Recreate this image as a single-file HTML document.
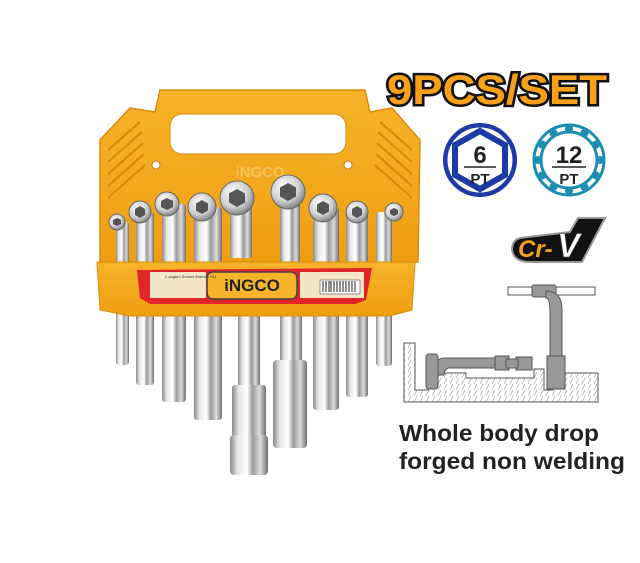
<!DOCTYPE html>
<html><head><meta charset="utf-8"><style>
html,body{margin:0;padding:0;background:#fff;}
svg{display:block}
</style></head><body>
<svg width="640" height="563" viewBox="0 0 640 563" xmlns="http://www.w3.org/2000/svg" font-family="Liberation Sans, sans-serif">
<defs>
<linearGradient id="chrome" x1="0" x2="1" y1="0" y2="0">
<stop offset="0" stop-color="#8a8a8a"/><stop offset="0.2" stop-color="#e8e8e8"/><stop offset="0.45" stop-color="#ffffff"/><stop offset="0.6" stop-color="#9a9a9a"/><stop offset="0.8" stop-color="#dcdcdc"/><stop offset="1" stop-color="#6e6e6e"/>
</linearGradient>
<radialGradient id="head" cx="0.4" cy="0.35" r="0.7"><stop offset="0" stop-color="#fff"/><stop offset="0.6" stop-color="#cfcfcf"/><stop offset="1" stop-color="#777"/></radialGradient>
<linearGradient id="org" x1="0" x2="0" y1="0" y2="1"><stop offset="0" stop-color="#f7b42a"/><stop offset="1" stop-color="#ef9e12"/></linearGradient>
<pattern id="hatch" width="6" height="6" patternUnits="userSpaceOnUse"><rect width="6" height="6" fill="#fff"/><path d="M0 6 L3 0" stroke="#999" stroke-width="0.6"/></pattern>
</defs>

<path d="M100 140 L130 108 L155 112 L160 90 L365 90 L370 112 L392 108 L420 140 L418 262 L100 262 Z" fill="url(#org)" stroke="#d98a0a" stroke-width="1.5"/>
<rect x="170" y="114" width="176" height="40" rx="12" fill="#fff" stroke="#d98a0a"/>
<g stroke="#d9870a" stroke-width="2" fill="none">
<path d="M108 150 L140 122 M108 162 L142 132 M108 174 L143 143 M108 186 L144 154 M108 198 L145 165"/>
<path d="M412 150 L380 122 M412 162 L378 132 M412 174 L377 143 M412 186 L376 154 M412 198 L375 165"/>
</g>
<circle cx="156" cy="165" r="4" fill="#fff" stroke="#c77a00"/>
<circle cx="348" cy="165" r="4" fill="#fff" stroke="#c77a00"/>
<path d="M185 178 L200 160 L320 160 L335 178 Z" fill="#f2a91e"/>
<text x="260" y="177" text-anchor="middle" font-size="15" font-weight="bold" fill="#f4c25a">iNGCO</text>

<g>
<rect x="116" y="222" width="13" height="143" rx="3" fill="url(#chrome)"/>
<rect x="136" y="212" width="18" height="173" rx="3" fill="url(#chrome)"/>
<rect x="162" y="204" width="24" height="198" rx="3" fill="url(#chrome)"/>
<rect x="194" y="207" width="28" height="213" rx="3" fill="url(#chrome)"/>
<rect x="230" y="198" width="22" height="60" fill="url(#chrome)"/>
<rect x="238" y="300" width="22" height="90" fill="url(#chrome)"/>
<rect x="232" y="385" width="34" height="55" rx="3" fill="url(#chrome)"/>
<rect x="230" y="435" width="38" height="40" rx="4" fill="url(#chrome)"/>
<rect x="280" y="192" width="20" height="70" fill="url(#chrome)"/>
<rect x="280" y="300" width="22" height="65" fill="url(#chrome)"/>
<rect x="273" y="360" width="34" height="88" rx="4" fill="url(#chrome)"/>
<rect x="313" y="208" width="26" height="202" rx="3" fill="url(#chrome)"/>
<rect x="346" y="212" width="22" height="185" rx="3" fill="url(#chrome)"/>
<rect x="376" y="212" width="16" height="154" rx="3" fill="url(#chrome)"/>
</g>
<g stroke="#666" stroke-width="1">
<circle cx="117" cy="222" r="8" fill="url(#head)"/>
<circle cx="140" cy="212" r="11" fill="url(#head)"/>
<circle cx="167" cy="204" r="12" fill="url(#head)"/>
<circle cx="202" cy="207" r="14" fill="url(#head)"/>
<circle cx="237" cy="198" r="17" fill="url(#head)"/>
<circle cx="288" cy="192" r="17" fill="url(#head)"/>
<circle cx="323" cy="208" r="14" fill="url(#head)"/>
<circle cx="357" cy="212" r="11" fill="url(#head)"/>
<circle cx="394" cy="212" r="9" fill="url(#head)"/>
</g>
<g fill="#555">
<polygon points="117,218 121,220 121,224 117,226 113,224 113,220"/>
<polygon points="140,206 145,209 145,215 140,218 135,215 135,209"/>
<polygon points="167,198 173,201 173,207 167,210 161,207 161,201"/>
<polygon points="202,200 208,203.5 208,210.5 202,214 196,210.5 196,203.5"/>
<polygon points="237,189 245,193.5 245,202.5 237,207 229,202.5 229,193.5"/>
<polygon points="288,183 296,187.5 296,196.5 288,201 280,196.5 280,187.5"/>
<polygon points="323,201 329,204.5 329,211.5 323,215 317,211.5 317,204.5"/>
<polygon points="357,206 362,209 362,215 357,218 352,215 352,209"/>
<polygon points="394,208 398,210 398,214 394,216 390,214 390,210"/>
</g>

<path d="M97 262 L415 262 L412 310 L390 316 L130 316 L100 310 Z" fill="url(#org)" stroke="#d98a0a"/>
<path d="M137 270 L372 268 L366 300 L355 304 L150 304 L140 298 Z" fill="#e0242a"/>
<rect x="150" y="272" width="56" height="26" fill="#f6e6c8"/>
<rect x="300" y="272" width="64" height="26" fill="#f6e6c8"/>
<rect x="320" y="280" width="40" height="14" fill="#fff" stroke="#333" stroke-width="0.5"/>
<path d="M323 281 v11 M326 281 v11 M329 281 v11 M331 281 v11 M334 281 v11 M337 281 v11 M340 281 v11 M343 281 v11 M346 281 v11 M349 281 v11 M352 281 v11 M355 281 v11" stroke="#222" stroke-width="1"/>
<rect x="207" y="272" width="90" height="27" rx="6" fill="#f7b42a" stroke="#444" stroke-width="1.5"/>
<text x="252" y="291" text-anchor="middle" font-size="17" font-weight="bold" fill="#222">iNGCO</text>
<text x="165" y="278" font-size="4" fill="#333">L-angled Socket Wrench Set</text>

<text x="387" y="104" font-size="42" font-weight="900" fill="#f7a11a" stroke="#111" stroke-width="5" paint-order="stroke" textLength="220" lengthAdjust="spacingAndGlyphs">9PCS/SET</text>

<circle cx="480" cy="160" r="34" fill="#fff" stroke="#1b3aa8" stroke-width="3"/>
<polygon points="480,131 505,145 505,175 480,189 455,175 455,145" fill="#fff" stroke="#1b3aa8" stroke-width="6"/>
<circle cx="480" cy="160" r="36" fill="none" stroke="#1b3aa8" stroke-width="2"/>
<text x="480" y="163" text-anchor="middle" font-size="24" font-weight="bold" fill="#222">6</text>
<line x1="464" y1="167" x2="496" y2="167" stroke="#222" stroke-width="1.5"/>
<text x="480" y="184" text-anchor="middle" font-size="15" font-weight="bold" fill="#222">PT</text>

<circle cx="569" cy="160" r="35" fill="#fff" stroke="#1c8fb0" stroke-width="3"/>
<circle cx="569" cy="160" r="28" fill="none" stroke="#1c8fb0" stroke-width="3"/>
<g fill="#1c8fb0">
<circle cx="569" cy="129" r="4"/><circle cx="569" cy="191" r="4"/><circle cx="538" cy="160" r="4"/><circle cx="600" cy="160" r="4"/>
<circle cx="584.5" cy="133" r="4"/><circle cx="553.5" cy="133" r="4"/><circle cx="584.5" cy="187" r="4"/><circle cx="553.5" cy="187" r="4"/>
<circle cx="596" cy="144.5" r="4"/><circle cx="542" cy="144.5" r="4"/><circle cx="596" cy="175.5" r="4"/><circle cx="542" cy="175.5" r="4"/>
</g>
<text x="569" y="163" text-anchor="middle" font-size="24" font-weight="bold" fill="#222">12</text>
<line x1="552" y1="167" x2="586" y2="167" stroke="#222" stroke-width="1.5"/>
<text x="569" y="184" text-anchor="middle" font-size="15" font-weight="bold" fill="#222">PT</text>

<path d="M520 238 Q512 240 512 250 Q514 262 530 262 L582 262 L605 218 L578 218 L570 232 Z" fill="#111" stroke="#999" stroke-width="2"/>
<text x="518" y="257" font-size="24" font-weight="bold" font-style="italic" fill="#f7a11a">Cr-</text>
<text x="557" y="257" font-size="34" font-weight="bold" font-style="italic" fill="#fff" stroke="#333" stroke-width="0.5">V</text>

<path d="M404 343 L415 343 L415 390 L428 390 L428 373 L466 373 L466 378 L534 378 L534 369 L544 369 L544 390 L553 390 L553 373 L598 373 L598 402 L404 402 Z" fill="url(#hatch)" stroke="#555" stroke-width="1"/>
<rect x="508" y="287" width="87" height="8" fill="#fff" stroke="#555"/>
<rect x="532" y="285" width="24" height="12" rx="2" fill="#999" stroke="#555"/>
<path d="M546 291 Q562 291 562 310 L562 380 L550 380 L550 312 Q550 298 546 298 Z" fill="#999" stroke="#555"/>
<rect x="547" y="356" width="18" height="33" fill="#999" stroke="#555"/>
<path d="M437 362 Q438 358 446 358 L500 358 L500 368 L448 368 Q444 370 444 375 L437 375 Z" fill="#999" stroke="#555"/>
<rect x="495" y="356" width="14" height="14" fill="#999" stroke="#555"/>
<rect x="516" y="357" width="16" height="13" fill="#999" stroke="#555"/>
<rect x="506" y="359" width="12" height="9" fill="#999" stroke="#555"/>
<rect x="426" y="354" width="12" height="35" rx="3" fill="#999" stroke="#555"/>

<text x="399" y="441" font-size="23" font-weight="bold" fill="#222" textLength="200" lengthAdjust="spacingAndGlyphs">Whole body drop</text>
<text x="399" y="469" font-size="23" font-weight="bold" fill="#222" textLength="226" lengthAdjust="spacingAndGlyphs">forged non welding</text>
</svg>
</body></html>
